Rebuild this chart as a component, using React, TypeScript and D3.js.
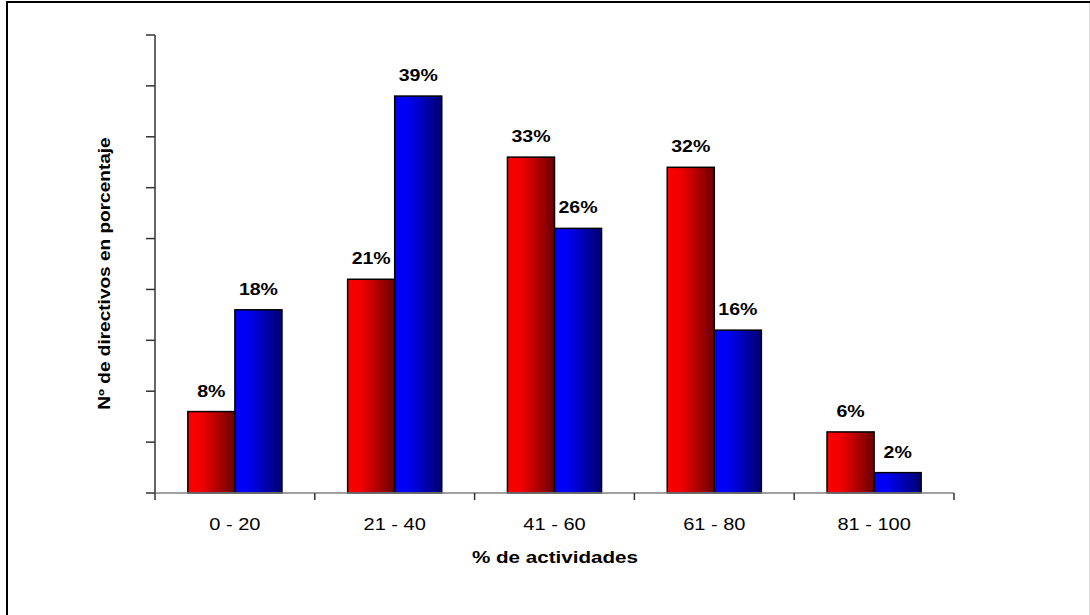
import React from "react";
import * as d3 from "d3";

// Share of managers (%) by share of activities carried out
const categories = ["0 - 20", "21 - 40", "41 - 60", "61 - 80", "81 - 100"];
const seriesNames = ["Serie A", "Serie B"];
const serieA = [8, 21, 33, 32, 6];
const serieB = [18, 39, 26, 16, 2];
const yTicks = [0, 5, 10, 15, 20, 25, 30, 35, 40, 45];

const W = 1090;
const H = 615;
const plot = { left: 155, right: 954, top: 35, bottom: 493 };
const FONT = "'Liberation Sans', Arial, Helvetica, sans-serif";
const SX = 1.25; // horizontal stretch applied to horizontal text

export default function App() {
  const x = d3
    .scaleBand<string>()
    .domain(categories)
    .range([plot.left, plot.right])
    .paddingInner(0)
    .paddingOuter(0);

  const xGroup = d3
    .scaleBand<string>()
    .domain(categories)
    .range([plot.left, plot.right])
    .paddingInner(0.411)
    .paddingOuter(0.2055);

  const xSeries = d3
    .scaleBand<string>()
    .domain(seriesNames)
    .range([0, xGroup.bandwidth()]);

  const y = d3.scaleLinear().domain([0, 45]).range([plot.bottom, plot.top]);

  const series = [
    { name: seriesNames[0], values: serieA, fill: "url(#gradRed)" },
    { name: seriesNames[1], values: serieB, fill: "url(#gradBlue)" },
  ];

  const catEdges = [...categories.map((c) => x(c) as number), plot.right];

  return (
    <svg
      width={W}
      height={H}
      viewBox={`0 0 ${W} ${H}`}
      style={{ position: "absolute", left: 0, top: 0, background: "#fff" }}
    >
      <defs>
        <linearGradient id="gradRed" x1="0" x2="1" y1="0" y2="0">
          <stop offset="0" stopColor="#ff0000" />
          <stop offset="0.3" stopColor="#f00000" />
          <stop offset="1" stopColor="#6a0000" />
        </linearGradient>
        <linearGradient id="gradBlue" x1="0" x2="1" y1="0" y2="0">
          <stop offset="0" stopColor="#0000ff" />
          <stop offset="0.3" stopColor="#0000f0" />
          <stop offset="1" stopColor="#00006e" />
        </linearGradient>
      </defs>

      <rect x={0} y={0} width={W} height={H} fill="#fff" />

      {/* chart frame */}
      <line x1={7} y1={2} x2={W} y2={2} stroke="#000" strokeWidth={2} />
      <line x1={7} y1={1} x2={7} y2={H} stroke="#000" strokeWidth={2} />
      <line x1={1089.5} y1={3} x2={1089.5} y2={H} stroke="#d8d8d8" strokeWidth={1} />

      {/* bars */}
      {series.map((s) =>
        categories.map((c, i) => {
          const bx = (xGroup(c) as number) + (xSeries(s.name) as number);
          const by = y(s.values[i]);
          return (
            <rect
              key={s.name + c}
              x={bx}
              y={by}
              width={xSeries.bandwidth()}
              height={plot.bottom - by}
              fill={s.fill}
              stroke="#000"
              strokeWidth={1.5}
            />
          );
        })
      )}

      {/* value labels */}
      {series.map((s) =>
        categories.map((c, i) => {
          const cx =
            (xGroup(c) as number) + (xSeries(s.name) as number) + xSeries.bandwidth() / 2;
          const cy = y(s.values[i]) - 15;
          return (
            <g key={"l" + s.name + c} transform={`translate(${cx},${cy}) scale(1.15,1)`}>
              <text
                textAnchor="middle"
                fontFamily={FONT}
                fontWeight="bold"
                fontSize={17}
                fill="#000"
              >
                {`${s.values[i]}%`}
              </text>
            </g>
          );
        })
      )}

      {/* y axis */}
      <line x1={plot.left} y1={plot.top} x2={plot.left} y2={plot.bottom} stroke="#333" strokeWidth={1.5} />
      {yTicks.map((t) => (
        <line
          key={"yt" + t}
          x1={plot.left - 9}
          x2={plot.left}
          y1={y(t)}
          y2={y(t)}
          stroke="#333"
          strokeWidth={1.5}
        />
      ))}

      {/* x axis */}
      <line x1={plot.left} y1={plot.bottom} x2={plot.right} y2={plot.bottom} stroke="#808080" strokeWidth={1.5} />
      {catEdges.map((e, i) => (
        <line
          key={"xt" + i}
          x1={e}
          x2={e}
          y1={plot.bottom}
          y2={plot.bottom + 7}
          stroke="#333"
          strokeWidth={1.5}
        />
      ))}
      {categories.map((c) => (
        <g
          key={"xl" + c}
          transform={`translate(${(x(c) as number) + x.bandwidth() / 2},530) scale(${SX},1)`}
        >
          <text textAnchor="middle" fontFamily={FONT} fontSize={16} fill="#000">
            {c}
          </text>
        </g>
      ))}

      {/* axis titles */}
      <g transform={`translate(555,563) scale(${SX},1)`}>
        <text textAnchor="middle" fontFamily={FONT} fontWeight="bold" fontSize={16.5} fill="#000">
          % de actividades
        </text>
      </g>
      <g transform="translate(110,273.5) rotate(-90) scale(1.19,1)">
        <text textAnchor="middle" fontFamily={FONT} fontWeight="bold" fontSize={16} fill="#000">
          Nº de directivos en porcentaje
        </text>
      </g>
    </svg>
  );
}
